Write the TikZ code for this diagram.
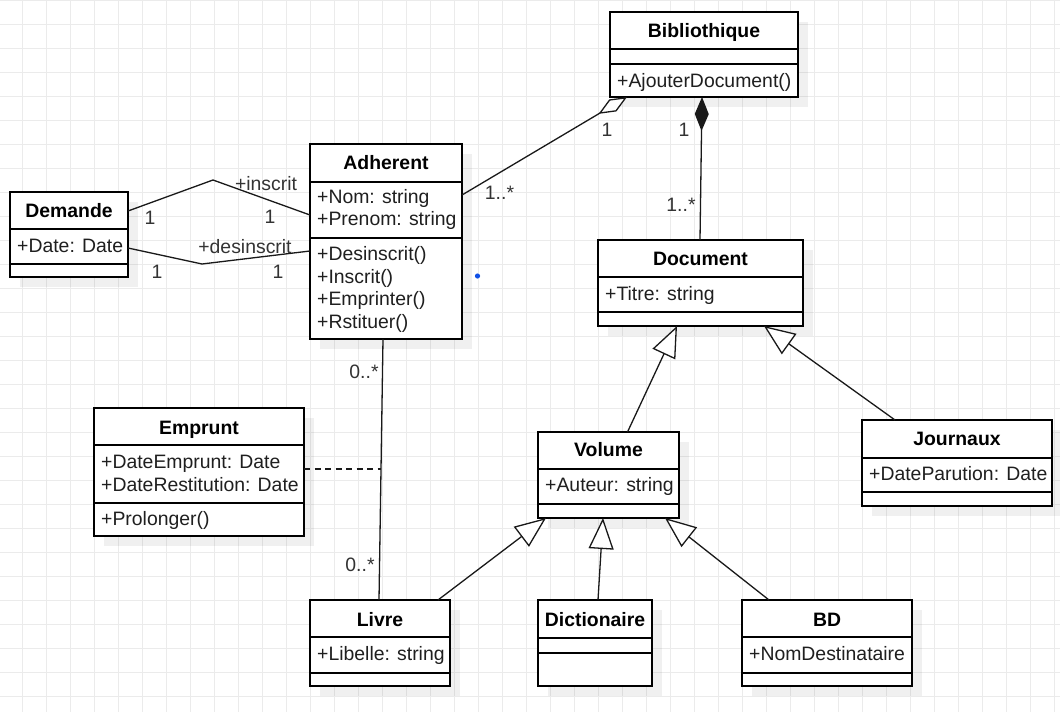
\documentclass[tikz,border=0pt]{standalone}
\usepackage{fontspec}
\setmainfont{Liberation Sans}
\usetikzlibrary{arrows.meta,calc}

\definecolor{gridgray}{HTML}{EBEBEB}
\definecolor{dotblue}{HTML}{1050E6}
\definecolor{labelgray}{HTML}{333333}

\tikzset{
  gridline/.style={draw=gridgray, line width=1.1pt},
  boxshadow/.style={fill=black, opacity=0.06},
  classframe/.style={draw=black, fill=white, line width=1.4pt, inner sep=0pt, outer sep=0pt},
  rulestyle/.style={draw=black, line width=1.4pt},
  titletext/.style={font=\fontsize{19.4}{23}\selectfont\bfseries, anchor=base, inner sep=0pt, text=black},
  membertext/.style={font=\fontsize{19.4}{23}\selectfont, anchor=base west, inner sep=0pt, text=black!88},
  multlabel/.style={font=\fontsize{19.4}{23}\selectfont, inner sep=0pt, text=labelgray},
  assoc/.style={draw=black!90, line width=1.3pt},
  generalize/.style={assoc, -{Triangle[length=31pt, width=25pt, fill=white]}},
  aggregate/.style={assoc, -{Diamond[length=33pt, width=14pt, fill=white]}},
  compose/.style={assoc, -{Diamond[length=34pt, width=14pt]}},
  assocclass/.style={draw=black!90, line width=1.2pt, dash pattern=on 6pt off 4.5pt},
}

% class frame: name, left, top, width, height, first rule, second rule (offsets from top)
\newcommand\umlbox[7]{%
  \fill[boxshadow] (#2+10,#3+10) rectangle ++(#4,#5);
  \node[classframe, minimum width=#4pt, minimum height=#5pt, anchor=north west] (#1) at (#2,#3) {};
  \draw[rulestyle] ($(#1.north west)+(0,#6)$) -- ($(#1.north east)+(0,#6)$);
  \draw[rulestyle] ($(#1.north west)+(0,#7)$) -- ($(#1.north east)+(0,#7)$);
}

\begin{document}
\begin{tikzpicture}[x=1pt, y=-1pt]
\useasboundingbox (0,0) rectangle (1060,712);
\fill[white] (0,0) rectangle (1060,712);

% background grid
\foreach \i in {0,...,43} \draw[gridline] ({22.3+24*\i},0) -- ({22.3+24*\i},712);
\foreach \j in {0,...,29} \draw[gridline] (0,{0.3+24*\j}) -- (1060,{0.3+24*\j});

% classes
\umlbox{bib}{610}{12}{188}{85}{37}{52}
\node[titletext] (bib-t) at (704,37.3) {Bibliothique};
\node[membertext] (bib-m1) at (617,87.3) {+AjouterDocument()};

\umlbox{adh}{310}{144}{152}{195}{38}{94}
\node[titletext] (adh-t) at (386,169.5) {Adherent};
\node[membertext] (adh-a1) at (317,203.3) {+Nom: string};
\node[membertext] (adh-a2) at (317,225.9) {+Prenom: string};
\node[membertext] (adh-m1) at (317,260.7) {+Desinscrit()};
\node[membertext] (adh-m2) at (317,283.3) {+Inscrit()};
\node[membertext] (adh-m3) at (317,305.9) {+Emprinter()};
\node[membertext] (adh-m4) at (317,328.5) {+Rstituer()};

\umlbox{dem}{10}{192}{118}{85}{37}{72}
\node[titletext] (dem-t) at (69,217.3) {Demande};
\node[membertext] (dem-a1) at (17,252) {+Date: Date};

\umlbox{doc}{598}{240}{205}{86}{37}{72}
\node[titletext] (doc-t) at (700.5,265.5) {Document};
\node[membertext] (doc-a1) at (605,300.5) {+Titre: string};

\umlbox{emp}{94}{408}{210}{128}{37}{95}
\node[titletext] (emp-t) at (199,434) {Emprunt};
\node[membertext] (emp-a1) at (101,468.3) {+DateEmprunt: Date};
\node[membertext] (emp-a2) at (101,491) {+DateRestitution: Date};
\node[membertext] (emp-m1) at (101,525) {+Prolonger()};

\umlbox{vol}{538}{432}{141}{86}{37}{72}
\node[titletext] (vol-t) at (608.5,456.7) {Volume};
\node[membertext] (vol-a1) at (545,491.7) {+Auteur: string};

\umlbox{jou}{862}{420}{190}{86}{38}{72}
\node[titletext] (jou-t) at (957,445) {Journaux};
\node[membertext] (jou-a1) at (869,480) {+DateParution: Date};

\umlbox{liv}{310}{600}{140}{86}{37}{73}
\node[titletext] (liv-t) at (380,626) {Livre};
\node[membertext] (liv-a1) at (317,660) {+Libelle: string};

\umlbox{dic}{538}{600}{114}{86}{38}{53}
\node[titletext] (dic-t) at (595,626) {Dictionaire};

\umlbox{bd}{742}{600}{170}{86}{37}{73}
\node[titletext] (bd-t) at (827,626) {BD};
\node[membertext] (bd-a1) at (749,660) {+NomDestinataire};

% Demande -- Adherent associations
\draw[assoc] ($(dem.north east)+(0,19)$) -- (213,180) -- ($(adh.north west)+(0,71)$);
\draw[assoc] ($(dem.north east)+(0,56)$) -- (202,264) -- ($(adh.north west)+(0,107)$);
\node[multlabel] (l-ins) at (266,184) {+inscrit};
\node[multlabel] (l-ins1) at (150,218) {1};
\node[multlabel] (l-ins2) at (270,217) {1};
\node[multlabel] (l-des) at (245,247) {+desinscrit};
\node[multlabel] (l-des1) at (157,272) {1};
\node[multlabel] (l-des2) at (278,272) {1};

% Bibliothique aggregates Adherent, composes Document
\draw[aggregate] ($(adh.north east)+(0,51)$) -- ($(bib.south west)+(17,0)$);
\node[multlabel] (l-agg1) at (607,129.5) {1};
\node[multlabel] (l-agg2) at (499.5,192.5) {1..*};
\draw[compose] ($(doc.north west)+(102,0)$) -- ($(bib.south west)+(92,0)$);
\node[multlabel] (l-cmp1) at (684,129.5) {1};
\node[multlabel] (l-cmp2) at (681,204.5) {1..*};

% inheritance
\draw[generalize] ($(vol.north west)+(89.5,0)$) -- ($(doc.south west)+(79,0)$);
\draw[generalize] ($(jou.north west)+(33,0)$) -- ($(doc.south west)+(166,0)$);
\draw[generalize] ($(liv.north west)+(128,0)$) -- ($(vol.south west)+(8,0)$);
\draw[generalize] ($(dic.north west)+(60,0)$) -- ($(vol.south west)+(65,0)$);
\draw[generalize] ($(bd.north west)+(27,0)$) -- ($(vol.south west)+(127,0)$);

% Adherent -- Livre with association class Emprunt
\coordinate (loanTop) at ($(adh.south west)+(73,0)$);
\coordinate (loanBot) at ($(liv.north west)+(69,0)$);
\draw[assoc] (loanTop) -- (loanBot);
\coordinate (loanMid) at ($(loanTop)!0.498!(loanBot)$);
\draw[assocclass] (emp.east |- loanMid) -- (loanMid);
\node[multlabel] (l-loan1) at (364,371.5) {0..*};
\node[multlabel] (l-loan2) at (360,565) {0..*};

% small blue marker
\fill[dotblue] (477.5,276) circle (2.6);
\end{tikzpicture}
\end{document}
